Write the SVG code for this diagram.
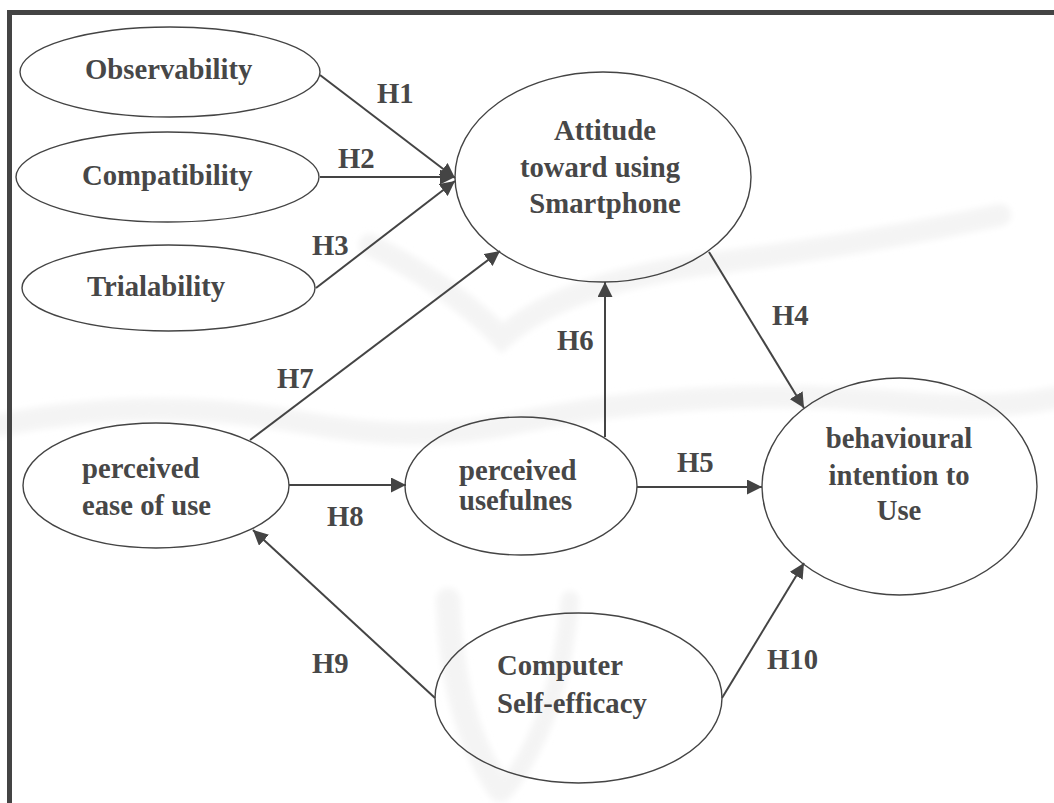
<svg xmlns="http://www.w3.org/2000/svg" width="1054" height="803" viewBox="0 0 1054 803">
  <style>
    .node { fill: none; stroke: #444; stroke-width: 1.4; }
    .label { font-family: "Liberation Serif", "Times New Roman", serif; font-weight: bold; font-size: 28.7px; fill: #474747; }
    .mid { text-anchor: middle; }
    .edge { stroke: #444; stroke-width: 2; fill: none; marker-end: url(#arrow); }
    .mark { fill: none; stroke: #f4f4f4; stroke-linecap: round; }
  </style>
  <defs>
    <marker id="arrow" markerUnits="userSpaceOnUse" markerWidth="16" markerHeight="15" refX="15" refY="7.5" orient="auto">
      <path d="M0,0 L15,7.5 L0,15 z" fill="#444"/>
    </marker>
    <filter id="soft" x="-10%" y="-10%" width="120%" height="120%">
      <feGaussianBlur stdDeviation="3"/>
    </filter>
  </defs>

  <rect width="1054" height="803" fill="#fff"/>

  <!-- faint background emblem -->
  <g id="background-emblem" filter="url(#soft)">
    <path class="mark" stroke-width="22" d="M370,245 Q450,285 502,338 Q560,285 700,265 Q860,245 1000,215"/>
    <path class="mark" stroke-width="22" d="M0,425 Q150,395 300,422 Q420,445 520,422 Q700,385 900,402 Q1000,410 1054,398"/>
    <path class="mark" stroke-width="24" d="M448,600 Q452,720 500,790"/>
    <path class="mark" stroke-width="18" d="M570,600 Q560,720 505,790"/>
  </g>

  <!-- frame -->
  <path d="M9.5,803 V12.5 H1054" fill="none" stroke="#444" stroke-width="5"/>

  <!-- connectors -->
  <g id="connectors">
    <path class="edge" d="M320,75 L455,178"/>
    <path class="edge" d="M320,177 L455,177"/>
    <path class="edge" d="M316,288 L455,181"/>
    <path class="edge" d="M250,440 L500,251"/>
    <path class="edge" d="M709,252 L804,408"/>
    <path class="edge" d="M605,437 L605,282"/>
    <path class="edge" d="M289,485 L406,485"/>
    <path class="edge" d="M637,487 L762,487"/>
    <path class="edge" d="M435,698 L253,530"/>
    <path class="edge" d="M722,698 L804,563"/>
  </g>

  <!-- hypothesis labels -->
  <g id="edge-labels" class="label">
    <text x="377" y="103">H1</text>
    <text x="338" y="168">H2</text>
    <text x="312" y="255">H3</text>
    <text x="772" y="325">H4</text>
    <text x="677" y="472">H5</text>
    <text x="557" y="350">H6</text>
    <text x="277" y="388">H7</text>
    <text x="327" y="526">H8</text>
    <text x="312" y="673">H9</text>
    <text x="767" y="669">H10</text>
  </g>

  <g id="observability">
    <ellipse class="node" cx="170" cy="72" rx="150" ry="45"/>
    <text class="label" x="85" y="79">Observability</text>
  </g>

  <g id="compatibility">
    <ellipse class="node" cx="167.5" cy="177" rx="151.5" ry="45"/>
    <text class="label" x="82" y="185">Compatibility</text>
  </g>

  <g id="trialability">
    <ellipse class="node" cx="168.5" cy="288" rx="146.5" ry="43"/>
    <text class="label" x="87" y="296">Trialability</text>
  </g>

  <g id="attitude">
    <ellipse class="node" cx="603" cy="177" rx="148" ry="105"/>
    <text class="label mid" x="605" y="140">Attitude</text>
    <text class="label mid" x="600" y="177">toward using</text>
    <text class="label mid" x="605" y="213">Smartphone</text>
  </g>

  <g id="ease-of-use">
    <ellipse class="node" cx="156" cy="485.5" rx="133" ry="62.5"/>
    <text class="label" x="82" y="478">perceived</text>
    <text class="label" x="82" y="515">ease of use</text>
  </g>

  <g id="usefulness">
    <ellipse class="node" cx="521" cy="486" rx="116" ry="69"/>
    <text class="label" x="459" y="480">perceived</text>
    <text class="label" x="459" y="510">usefulnes</text>
  </g>

  <g id="intention">
    <ellipse class="node" cx="899.5" cy="486.5" rx="137.5" ry="108.5"/>
    <text class="label mid" x="899" y="448">behavioural</text>
    <text class="label mid" x="899" y="485">intention to</text>
    <text class="label mid" x="899" y="520">Use</text>
  </g>

  <g id="self-efficacy">
    <ellipse class="node" cx="578.5" cy="698" rx="143.5" ry="85"/>
    <text class="label" x="497" y="675">Computer</text>
    <text class="label" x="497" y="713">Self-efficacy</text>
  </g>
</svg>
